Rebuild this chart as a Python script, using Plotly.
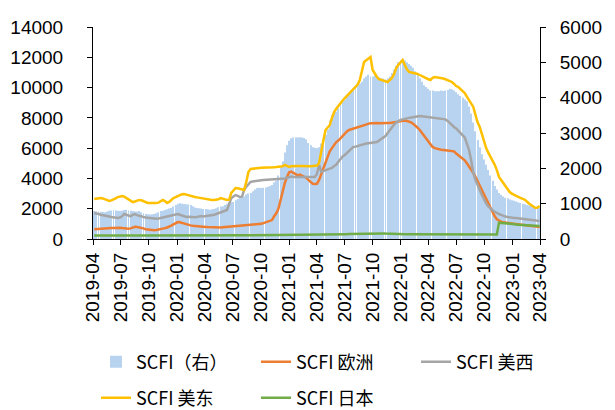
import pandas as pd
import plotly.graph_objects as go

# weekly dates (Fridays), 2019-04-05 .. 2023-03-31
dates = pd.date_range("2019-04-05", "2023-03-31", freq="W-FRI")

tick_labels = ["2019-04", "2019-07", "2019-10", "2020-01", "2020-04", "2020-07",
               "2020-10", "2021-01", "2021-04", "2021-07", "2021-10", "2022-01",
               "2022-04", "2022-07", "2022-10", "2023-01", "2023-04"]

# SCFI composite (right axis)
scfi = [
    790, 785, 775, 770,
    765, 760, 780, 800, 810,
    820, 810, 800, 790,
    800, 820, 830, 810,
    800, 790, 780, 780, 790,
    760, 730, 710, 700,
    690, 700, 710, 730,
    760, 790, 800, 820, 840,
    860, 880, 920, 960,
    1000, 1010, 1000, 990, 980,
    975, 960, 930, 890,
    880, 870, 860, 850,
    850, 840, 830, 840,
    850, 870, 900, 920, 930,
    960, 1000, 1030, 1040,
    1050, 1100, 1130, 1150, 1170,
    1200, 1260, 1290, 1300,
    1350, 1400, 1440, 1450,
    1440, 1450, 1460, 1480, 1500,
    1530, 1600, 1650, 1800,
    2050, 2200, 2450, 2650,
    2780, 2850, 2870, 2880, 2870,
    2880, 2875, 2860, 2820,
    2720, 2650, 2600, 2580,
    2570, 2600, 2700, 2800, 2950,
    3100, 3350, 3500, 3550,
    3600, 3700, 3800, 3900,
    3950, 4050, 4100, 4200, 4250,
    4300, 4350, 4400, 4450,
    4550, 4600, 4650, 4600,
    4600, 4630, 4620, 4570, 4550,
    4540, 4520, 4550, 4600,
    4700, 4800, 4900, 5000, 5050,
    5100, 5050, 5000, 4950,
    4900, 4850, 4750, 4650,
    4550, 4450, 4350, 4300,
    4250, 4200, 4200, 4180, 4180,
    4180, 4200, 4190, 4200,
    4220, 4250, 4240, 4200,
    4150, 4100, 4050, 4000, 3950,
    3900, 3750, 3550, 3300,
    3050, 2800, 2600, 2400, 2250,
    2100, 1950, 1800, 1650,
    1500, 1400, 1300, 1250,
    1200, 1170, 1150, 1120, 1100,
    1080, 1060, 1040, 1020,
    1000, 980, 960, 950,
    940, 920, 900, 890, 880,
]

# SCFI Europe (left axis)
europe = [
    650, 660, 700, 720,
    730, 740, 750, 740, 730,
    720, 740, 760, 750,
    730, 700, 690, 680,
    700, 760, 800, 790, 770,
    740, 700, 650, 620,
    600, 590, 580, 600,
    620, 640, 680, 720, 760,
    800, 880, 960, 1050,
    1120, 1100, 1050, 1000, 960,
    930, 900, 880, 860,
    850, 830, 820, 810,
    800, 790, 780, 760,
    750, 740, 740, 760, 780,
    790, 800, 820, 850,
    860, 870, 880, 880, 890,
    900, 900, 910, 920,
    930, 940, 940, 950,
    1000, 1050, 1100, 1130, 1160,
    1250, 1500, 1700, 2000,
    2600, 3200, 3700, 4100,
    4400, 4450, 4350, 4250, 4200,
    4250, 4200, 4150, 4050,
    3900, 3750, 3650, 3630,
    3650, 3900, 4300, 4700, 5100,
    5500, 5800, 6000, 6200,
    6400, 6500, 6650, 6800,
    7000, 7100, 7200, 7250, 7300,
    7350, 7400, 7450, 7480,
    7520, 7550, 7600, 7650,
    7650, 7670, 7660, 7650, 7640,
    7640, 7650, 7660, 7660,
    7670, 7690, 7720, 7760, 7790,
    7800, 7820, 7790, 7750,
    7700, 7600, 7500, 7350,
    7200, 7000, 6800, 6600,
    6400, 6200, 6080, 6000, 5950,
    5930, 5900, 5880, 5860,
    5850, 5830, 5810, 5790,
    5650, 5550, 5450, 5300, 5200,
    5000, 4800, 4600, 4360,
    4100, 3800, 3500, 3200, 2950,
    2650, 2350, 2050, 1750,
    1500, 1300, 1200, 1150,
    1100, 1080, 1060, 1050, 1040,
    1030, 1000, 980, 950,
    920, 900, 880, 870,
    850, 830, 810, 800, 790,
]

# SCFI US West coast (left axis)
us_west = [
    1720, 1700, 1650, 1600,
    1560, 1520, 1500, 1480, 1450,
    1420, 1400, 1390, 1420,
    1500, 1650, 1600, 1550,
    1500, 1600, 1650, 1580, 1520,
    1480, 1450, 1420, 1400,
    1380, 1350, 1320, 1330,
    1350, 1380, 1420, 1450, 1500,
    1480, 1520, 1550, 1600,
    1650, 1600, 1550, 1500, 1450,
    1470, 1480, 1450, 1430,
    1450, 1500, 1520, 1480,
    1500, 1550, 1580, 1560,
    1600, 1650, 1700, 1750, 1780,
    1850, 1920, 2300, 2700,
    2800, 2900, 2850, 2770, 2800,
    3240, 3450, 3650, 3770,
    3800, 3830, 3850, 3870,
    3880, 3890, 3900, 3900, 3910,
    3920, 3930, 3940, 3950,
    3960, 3980, 4000, 4050,
    4100, 4120, 4100, 4080, 4100,
    4100, 4090, 4080, 4100,
    4090, 4100, 4080, 4100,
    4300, 4890, 4430, 4500, 4560,
    4600, 4650, 4700, 4820,
    4900, 5100, 5300, 5450,
    5550, 5700, 5850, 5950, 6080,
    6100, 6150, 6200, 6250,
    6270, 6300, 6320, 6340,
    6340, 6350, 6400, 6500, 6600,
    6670, 6800, 7000, 7200,
    7400, 7550, 7700, 7800, 7860,
    7900, 7950, 7990, 8000,
    8020, 8050, 8080, 8100,
    8120, 8100, 8080, 8060,
    8060, 8040, 8000, 7990, 7980,
    7960, 7950, 7930, 7900,
    7800, 7650, 7500, 7400,
    7300, 7150, 7000, 6850, 6700,
    6300, 5880, 5200, 4360,
    3900, 3500, 3240, 2900, 2600,
    2350, 2150, 2000, 1900,
    1800, 1700, 1650, 1590,
    1520, 1480, 1450, 1420, 1400,
    1390, 1380, 1360, 1340,
    1300, 1280, 1260, 1250,
    1240, 1230, 1210, 1200, 1190,
]

# SCFI US East coast (left axis)
us_east = [
    2640, 2660, 2700, 2710,
    2680, 2620, 2560, 2510, 2550,
    2600, 2680, 2770, 2800,
    2840, 2800, 2700, 2600,
    2500, 2440, 2480, 2550, 2580,
    2560, 2500, 2420, 2380,
    2380, 2370, 2390, 2380,
    2400, 2500, 2580, 2500, 2380,
    2450, 2600, 2700, 2770,
    2850, 2900, 2950, 2970, 2930,
    2880, 2820, 2780, 2770,
    2750, 2720, 2700, 2680,
    2650, 2620, 2600, 2580,
    2580, 2600, 2620, 2700, 2650,
    2620, 2580, 2600, 3040,
    3200, 3370, 3350, 3300, 3240,
    3240, 3770, 4430, 4620,
    4650, 4680, 4690, 4690,
    4700, 4700, 4710, 4720, 4730,
    4730, 4740, 4750, 4760,
    4760, 4800, 4890, 4850,
    4760, 4800, 4820, 4830, 4820,
    4820, 4810, 4820, 4820,
    4820, 4810, 4820, 4830,
    4850, 5020, 5880, 6500, 7200,
    7350, 7530, 8000, 8390,
    8600, 8800, 9000, 9150,
    9310, 9450, 9600, 9750, 9900,
    10040, 10200, 10500, 11160,
    11690, 11800, 11900, 12020,
    11160, 10900, 10700, 10550, 10500,
    10450, 10400, 10370, 10500,
    10630, 10900, 11290, 11500, 11700,
    11820, 11490, 11200, 11030,
    11000, 10980, 10960, 10900,
    10830, 10750, 10700, 10630,
    10550, 10500, 10650, 10700, 10680,
    10650, 10630, 10600, 10550,
    10500, 10450, 10370, 10250,
    10100, 10040, 9900, 9750, 9640,
    9400, 9180, 8950, 8720,
    8200, 7700, 7400, 6900, 6340,
    6000, 5700, 5450, 5220,
    4900, 4550, 4100, 3900,
    3700, 3450, 3240, 3100, 3000,
    2900, 2850, 2780, 2700,
    2650, 2600, 2440, 2350,
    2250, 2150, 2050, 2080, 2180,
]

# SCFI Japan (left axis)
japan = [
    230, 232, 235, 233,
    230, 228, 230, 232, 235,
    236, 238, 235, 232,
    230, 228, 226, 228,
    230, 232, 233, 231, 230,
    228, 226, 225, 224,
    222, 221, 222, 224,
    225, 226, 228, 230, 232,
    234, 236, 238, 240,
    242, 240, 238, 236, 234,
    232, 230, 228, 226,
    225, 224, 224, 225,
    226, 226, 227, 228,
    228, 229, 230, 230, 231,
    232, 233, 234, 235,
    236, 237, 238, 240, 241,
    242, 243, 244, 245,
    246, 248, 250, 252,
    254, 255, 256, 258, 260,
    262, 264, 266, 268,
    270, 272, 275, 278,
    280, 282, 283, 284, 284,
    283, 282, 281, 280,
    279, 278, 278, 279,
    280, 282, 284, 286, 288,
    290, 292, 295, 298,
    300, 303, 306, 310,
    315, 320, 325, 330, 335,
    340, 345, 350, 355,
    360, 365, 370, 375,
    380, 385, 388, 385, 380,
    370, 360, 350, 340,
    335, 330, 325, 322, 320,
    318, 316, 315, 314,
    313, 312, 312, 311,
    310, 310, 311, 312,
    313, 314, 315, 316, 317,
    318, 319, 320, 321,
    322, 323, 324, 325,
    326, 327, 328, 328, 327,
    326, 325, 323, 321,
    319, 317, 315, 313, 311,
    309, 307, 305, 303,
    301, 299, 1080, 1060,
    1040, 1020, 1000, 990, 980,
    960, 950, 940, 930,
    920, 910, 900, 895,
    890, 880, 870, 865, 860,
]

names = ["SCFI（右）", "SCFI 欧洲", "SCFI 美西", "SCFI 美东", "SCFI 日本"]
colors = ["#B8D3F0", "#ED7D31", "#A5A5A5", "#FFC000", "#70AD47"]

fig = go.Figure()
fig.add_trace(go.Bar(x=dates, y=scfi, name=names[0], marker=dict(color=colors[0], line=dict(width=0)),
                     yaxis="y", legend="legend", showlegend=True))
line_series = [(europe, 1, "legend2"), (us_west, 2, "legend2"), (us_east, 3, "legend3"), (japan, 4, "legend3")]
for vals, i, lg in line_series:
    fig.add_trace(go.Scatter(x=dates, y=vals, name=names[i], mode="lines",
                             line=dict(color=colors[i], width=2.5), yaxis="y2", legend=lg))

tick_font = dict(family="Liberation Sans, Arial", size=19, color="black")
legend_common = dict(orientation="h", xref="container", yref="container", xanchor="left", yanchor="middle",
                     entrywidth=115, entrywidthmode="pixels", bgcolor="rgba(0,0,0,0)",
                     font=dict(family="Noto Sans CJK SC", size=18, color="black"))

fig.update_layout(
    width=615, height=410,
    margin=dict(l=93, r=75, t=27, b=171),
    plot_bgcolor="white", paper_bgcolor="white",
    showlegend=True,
    bargap=0.55,
    xaxis=dict(type="date", range=["2019-04-01", "2023-04-01"],
               tickvals=[t + "-01" for t in tick_labels], ticktext=tick_labels,
               tickangle=-90, ticks="outside", ticklen=5, tickcolor="black",
               showline=True, linecolor="black", showgrid=False, zeroline=False,
               tickfont=tick_font, automargin=False),
    yaxis=dict(range=[0, 6000], dtick=1000, tickformat="d", side="right", showline=True,
               linecolor="black", ticks="outside", ticklen=5, tickcolor="black",
               showgrid=False, zeroline=False, tickfont=tick_font, ticklabelstandoff=10,
               automargin=False),
    yaxis2=dict(range=[0, 14000], dtick=2000, tickformat="d", side="left", overlaying="y",
                showline=True, linecolor="black", ticks="outside", ticklen=5, tickcolor="black",
                showgrid=False, zeroline=False, tickfont=tick_font, ticklabelstandoff=20,
                automargin=False),
    legend=dict(x=96 / 615, y=1 - 362 / 410, visible=True, **legend_common),
    legend2=dict(x=256 / 615, y=1 - 362 / 410, **legend_common),
    legend3=dict(x=96 / 615, y=1 - 398 / 410, **legend_common),
)

fig.write_html("out.html", config={"displayModeBar": False},
               post_script="document.body.style.margin='0';")
